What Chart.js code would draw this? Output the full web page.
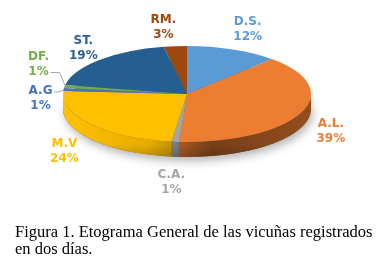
<!DOCTYPE html>
<html><head><meta charset="utf-8">
<script src="https://cdn.jsdelivr.net/npm/chart.js@4"></script>
<style>
html,body{margin:0;padding:0;background:#fff;}
#wrap{position:relative;width:391px;height:271px;overflow:hidden;background:#fff;}
canvas{position:absolute;left:0;top:0;}
#cap{position:absolute;left:15px;top:223px;font-family:"Liberation Serif","Times New Roman",serif;font-size:16.5px;line-height:17px;color:#000;white-space:nowrap;}
</style></head><body>
<div id="wrap"><canvas id="c" width="391" height="271"></canvas>
<div id="cap">Figura 1. Etograma General de las vicuñas registrados<br>en dos días.</div></div>
<script>
// ---- data ----
const categories = ['D.S.', 'A.L.', 'C.A.', 'M.V', 'A.G', 'DF.', 'ST.', 'RM.'];
const percentValues = [12, 39, 1, 24, 1, 1, 19, 3];
const percentLabels = ['12%', '39%', '1%', '24%', '1%', '1%', '19%', '3%'];

// ---- styles ----
const topColors = ['#5B9BD5', '#ED7D31', '#A5A5A5', '#FFC000', '#4472C4', '#70AD47', '#255E91', '#9E480E'];
const labelColors = ['#5B9BD5', '#ED7D31', '#A5A5A5', '#FFC000', '#4472C4', '#70AD47', '#2A5F97', '#9E480E'];
const labelNudge = [[15,-20],[30,18],[-4,41],[-27,27],[-23,9],[-26,-22],[-16,-12],[-12,-19]];
const leaderLine = [false,false,false,false,true,true,false,false];
const TILT = 0.387, PIE_CY = 94, DEPTH = 15;

function shade(hex, f){
  const n = parseInt(hex.slice(1),16);
  const r=(n>>16)&255, g=(n>>8)&255, b=n&255;
  const c = v => Math.min(255, Math.round(v*f));
  return 'rgb('+c(r)+','+c(g)+','+c(b)+')';
}

const pie3d = {
  id: 'pie3d',
  beforeDatasetsDraw(chart){
    const ctx = chart.ctx;
    const meta = chart.getDatasetMeta(0);
    const a0 = meta.data[0];
    const cx = a0.x, cy = a0.y, rx = a0.outerRadius, ry = rx*TILT, ey = PIE_CY;
    ctx.save();
    // soft shadow under the pie
    ctx.save();
    ctx.shadowColor = 'rgba(0,0,0,0.3)';
    ctx.shadowBlur = 10; ctx.shadowOffsetX = 2; ctx.shadowOffsetY = 4;
    ctx.beginPath(); ctx.ellipse(cx, ey+DEPTH, rx, ry, 0, 0, 2*Math.PI);
    ctx.fillStyle = '#666'; ctx.fill();
    ctx.restore();
    // side walls of the front half
    meta.data.forEach((arc, i) => {
      const a = Math.max(arc.startAngle, 0), b = Math.min(arc.endAngle, Math.PI);
      if (b <= a) return;
      const c = topColors[i];
      const g = ctx.createLinearGradient(cx-rx, 0, cx+rx, 0);
      g.addColorStop(0, shade(c, 1.0));
      g.addColorStop(0.35, shade(c, 0.9));
      g.addColorStop(0.6, shade(c, 0.5));
      g.addColorStop(1, shade(c, 0.62));
      ctx.beginPath();
      ctx.ellipse(cx, ey, rx, ry, 0, a, b);
      ctx.ellipse(cx, ey+DEPTH, rx, ry, 0, b, a, true);
      ctx.closePath();
      ctx.fillStyle = g; ctx.fill();
    });
    // darken bottom of wall
    const vg = ctx.createLinearGradient(0, ey, 0, ey+ry+DEPTH);
    vg.addColorStop(0, 'rgba(0,0,0,0)');
    vg.addColorStop(0.8, 'rgba(0,0,0,0)');
    vg.addColorStop(1, 'rgba(0,0,0,0.18)');
    ctx.beginPath();
    ctx.ellipse(cx, ey, rx, ry, 0, 0, Math.PI);
    ctx.ellipse(cx, ey+DEPTH, rx, ry, 0, Math.PI, 0, true);
    ctx.closePath(); ctx.fillStyle = vg; ctx.fill();
    // tilt the top face
    ctx.translate(0, ey); ctx.scale(1, TILT); ctx.translate(0, -cy);
  },
  afterDatasetsDraw(chart){ chart.ctx.restore(); },
  afterDraw(chart){
    const ctx = chart.ctx;
    const meta = chart.getDatasetMeta(0);
    ctx.save();
    ctx.font = 'bold 12px "DejaVu Sans", sans-serif';
    ctx.textAlign = 'center'; ctx.textBaseline = 'middle';
    meta.data.forEach((arc, i) => {
      const rx = arc.outerRadius, ry = rx*TILT;
      const m = (arc.startAngle + arc.endAngle)/2;
      const px = arc.x + rx*Math.cos(m), py = PIE_CY + ry*Math.sin(m);
      const lx = px + labelNudge[i][0], ly = py + labelNudge[i][1];
      ctx.fillStyle = labelColors[i];
      ctx.fillText(categories[i], lx, ly-7.5);
      ctx.fillText(percentLabels[i], lx, ly+7.5);
      if (leaderLine[i]) {
        const useFirst = i === 4;
        const w = ctx.measureText(useFirst ? categories[i] : percentLabels[i]).width;
        const sy = useFirst ? ly-6.5 : ly+8;
        const sx = lx + w/2 + 2;
        ctx.strokeStyle = '#A6A6A6'; ctx.lineWidth = 1;
        ctx.beginPath(); ctx.moveTo(sx, sy); ctx.lineTo(Math.max(sx, px-5), sy); ctx.lineTo(px+1, py); ctx.stroke();
      }
    });
    ctx.restore();
  }
};

new Chart(document.getElementById('c'), {
  type: 'pie',
  data: {
    labels: categories,
    datasets: [{ data: percentValues, backgroundColor: topColors, borderWidth: 0 }]
  },
  options: {
    responsive: false, animation: false, devicePixelRatio: 1,
    layout: { padding: { left: 63, right: 80, top: 10, bottom: 13 } },
    plugins: { legend: { display: false }, tooltip: { enabled: false } }
  },
  plugins: [pie3d]
});
</script>
</body></html>
